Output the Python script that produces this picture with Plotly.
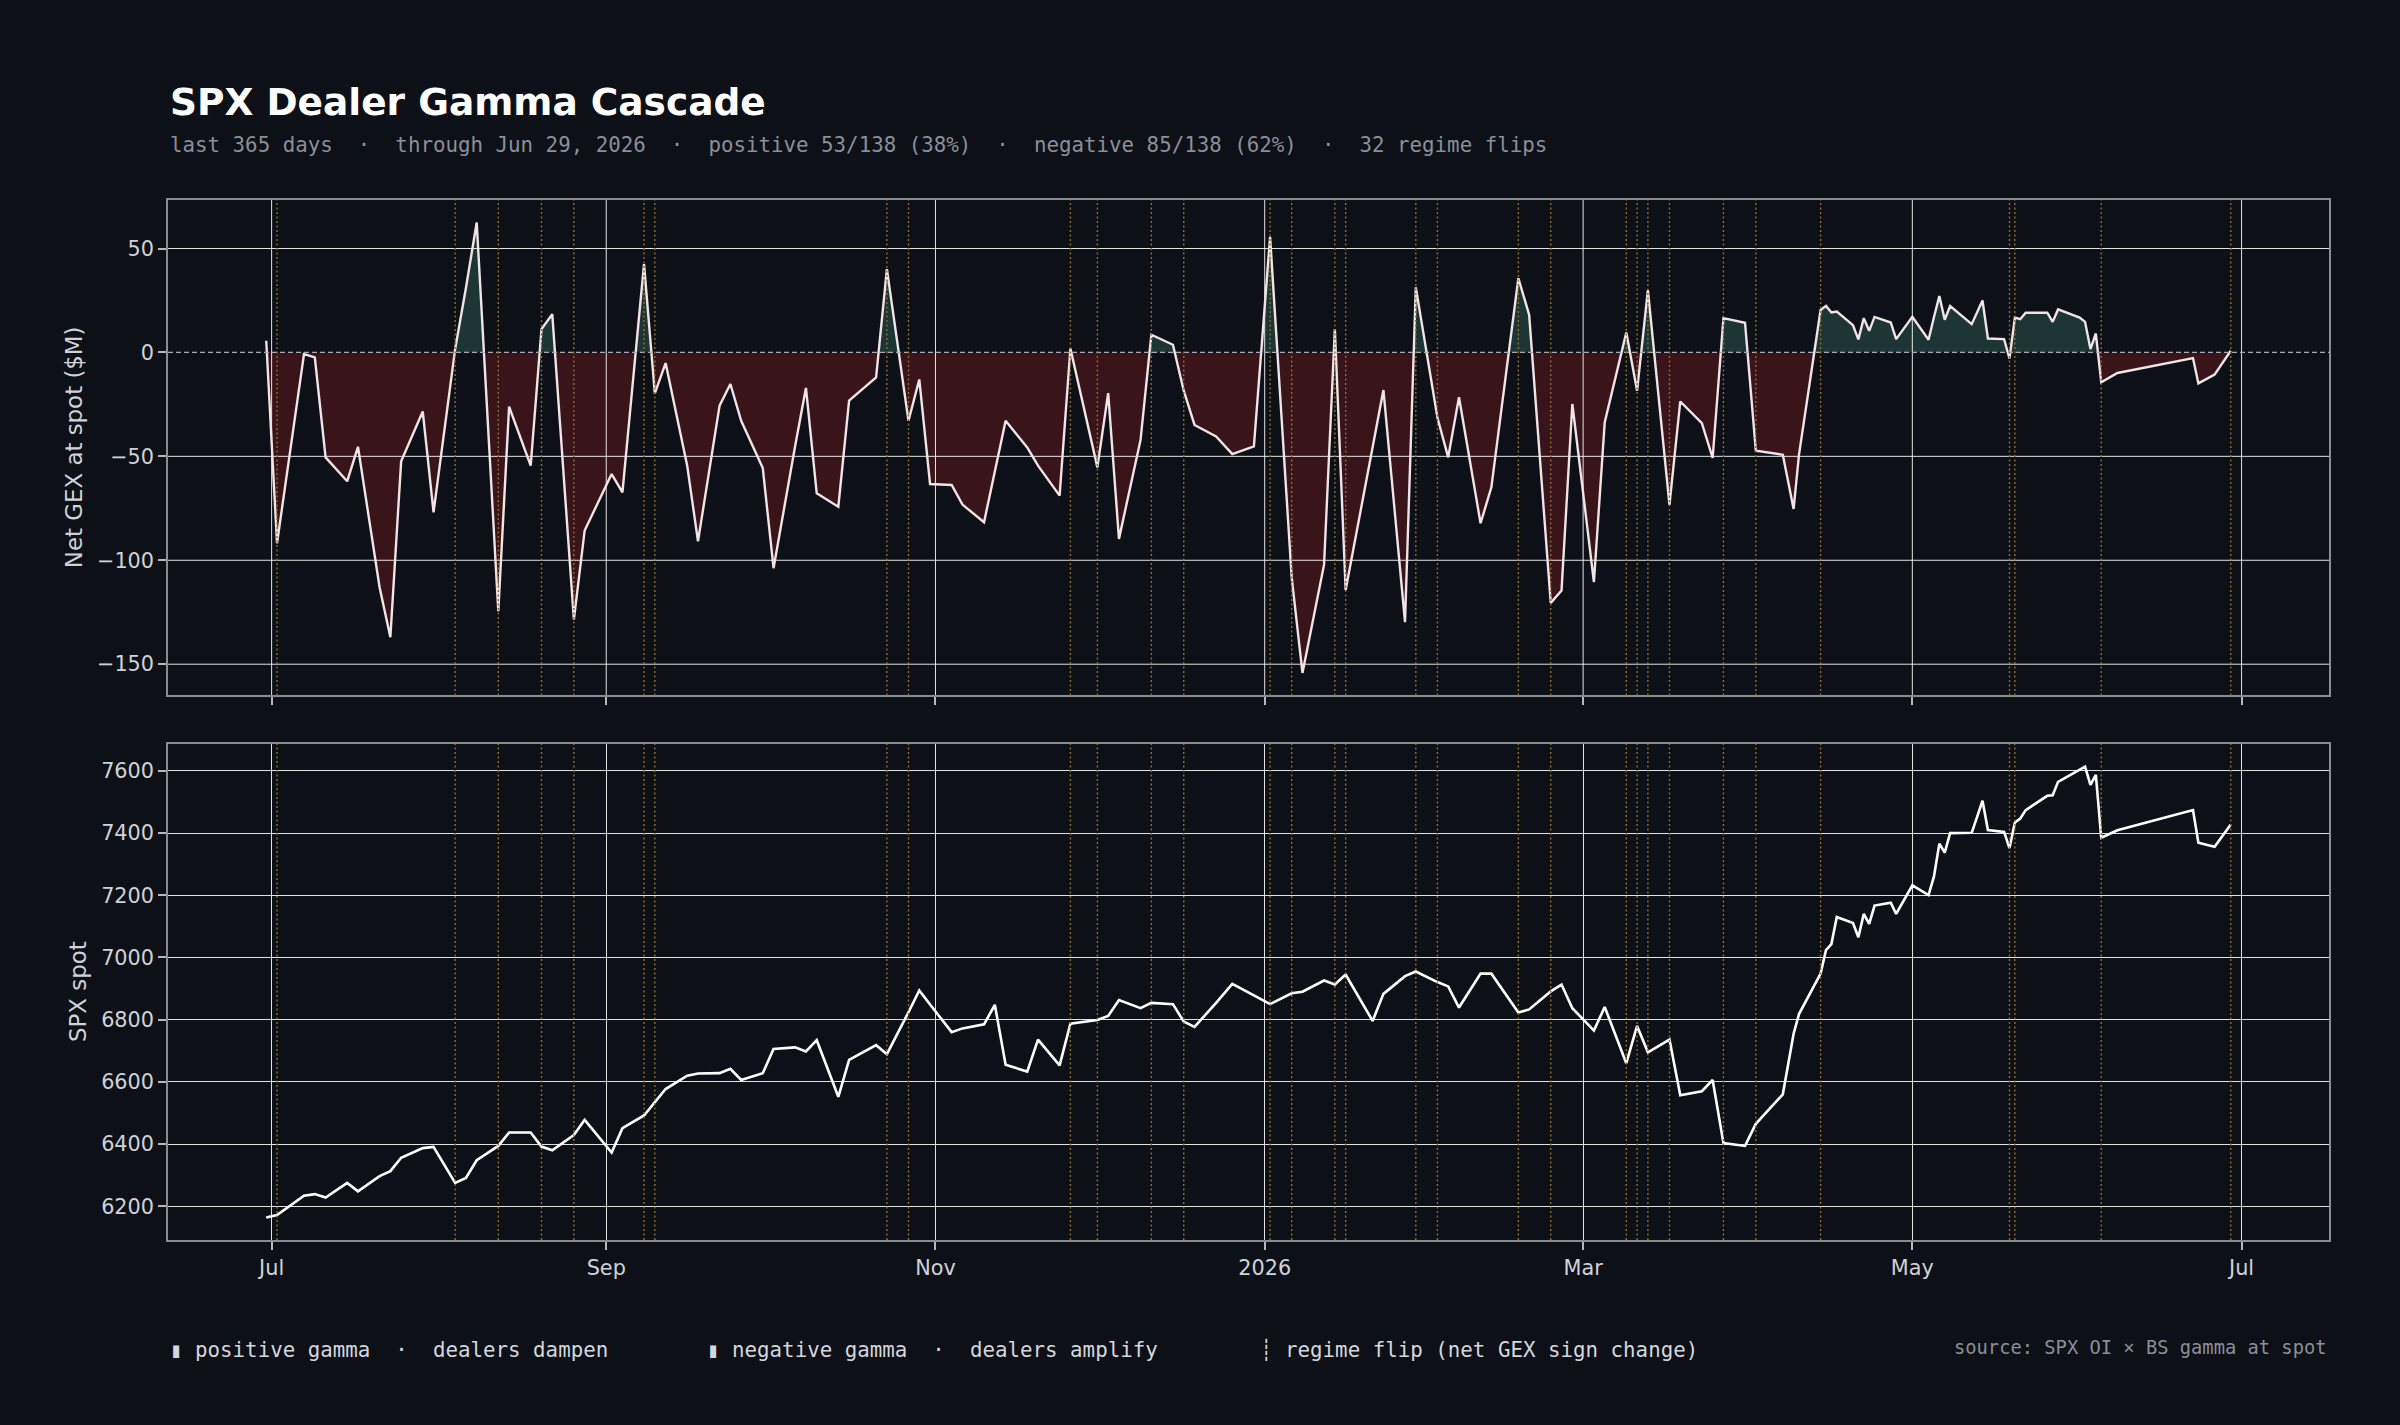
import numpy as np
import pandas as pd
import plotly.graph_objects as go

# ---------------- data ----------------
dates = [
    "2025-06-30", "2025-07-02", "2025-07-07", "2025-07-09", "2025-07-11", "2025-07-15", "2025-07-17", "2025-07-21", "2025-07-23", "2025-07-25",
    "2025-07-29", "2025-07-31", "2025-08-04", "2025-08-06", "2025-08-08", "2025-08-12", "2025-08-14", "2025-08-18", "2025-08-20", "2025-08-22",
    "2025-08-26", "2025-08-28", "2025-09-02", "2025-09-04", "2025-09-08", "2025-09-10", "2025-09-12", "2025-09-16", "2025-09-18", "2025-09-22",
    "2025-09-24", "2025-09-26", "2025-09-30", "2025-10-02", "2025-10-06", "2025-10-08", "2025-10-10", "2025-10-14", "2025-10-16", "2025-10-21",
    "2025-10-23", "2025-10-27", "2025-10-29", "2025-10-31", "2025-11-04", "2025-11-06", "2025-11-10", "2025-11-12", "2025-11-14", "2025-11-18",
    "2025-11-20", "2025-11-24", "2025-11-26", "2025-12-01", "2025-12-03", "2025-12-05", "2025-12-09", "2025-12-11", "2025-12-15", "2025-12-17",
    "2025-12-19", "2025-12-23", "2025-12-26", "2025-12-30", "2026-01-02", "2026-01-06", "2026-01-08", "2026-01-12", "2026-01-14", "2026-01-16",
    "2026-01-21", "2026-01-23", "2026-01-27", "2026-01-29", "2026-02-02", "2026-02-04", "2026-02-06", "2026-02-10", "2026-02-12", "2026-02-17",
    "2026-02-19", "2026-02-23", "2026-02-25", "2026-02-27", "2026-03-03", "2026-03-05", "2026-03-09", "2026-03-11", "2026-03-13", "2026-03-17",
    "2026-03-19", "2026-03-23", "2026-03-25", "2026-03-27", "2026-03-31", "2026-04-02", "2026-04-07", "2026-04-09", "2026-04-10", "2026-04-14",
    "2026-04-15", "2026-04-16", "2026-04-17", "2026-04-20", "2026-04-21", "2026-04-22", "2026-04-23", "2026-04-24", "2026-04-27", "2026-04-28",
    "2026-05-01", "2026-05-04", "2026-05-05", "2026-05-06", "2026-05-07", "2026-05-08", "2026-05-12", "2026-05-13", "2026-05-14", "2026-05-15",
    "2026-05-18", "2026-05-19", "2026-05-20", "2026-05-21", "2026-05-22", "2026-05-26", "2026-05-27", "2026-05-28", "2026-06-01", "2026-06-02",
    "2026-06-03", "2026-06-04", "2026-06-05", "2026-06-08", "2026-06-22", "2026-06-23", "2026-06-26", "2026-06-29",
]

net_gex = [
    5.6, -91.8, -0.8, -2.4, -50.5, -62.0, -45.4, -113.0, -137.0, -52.4,
    -28.4, -76.9, 1.6, 31.0, 62.5, -124.5, -26.1, -54.5, 11.2, 18.4,
    -128.5, -85.7, -58.5, -67.3, 42.5, -19.7, -5.1, -54.5, -90.9, -25.6,
    -15.2, -32.9, -55.6, -103.8, -45.0, -17.1, -67.8, -74.2, -23.2, -12.0,
    40.1, -32.9, -13.0, -63.3, -63.8, -73.2, -81.7, -57.7, -32.9, -45.7,
    -54.5, -68.9, 1.9, -55.3, -19.6, -89.7, -42.1, 8.5, 3.7, -18.4,
    -34.9, -40.4, -48.9, -45.2, 55.6, -108.2, -154.2, -102.1, 11.2, -114.3,
    -44.7, -18.1, -129.8, 31.3, -31.3, -50.5, -21.6, -82.2, -64.9, 35.7,
    18.1, -120.5, -114.6, -24.8, -110.5, -33.7, 9.6, -18.4, 30.0, -73.4,
    -23.6, -34.0, -50.8, 16.5, 14.3, -47.3, -49.2, -75.3, -49.2, 20.4,
    22.4, 19.2, 19.7, 13.1, 6.3, 16.5, 10.4, 17.1, 14.4, 6.4,
    17.1, 6.1, 16.9, 27.1, 15.7, 22.3, 13.6, 19.5, 25.0, 6.7,
    6.4, -2.9, 16.8, 16.0, 19.1, 19.1, 14.7, 20.7, 16.8, 14.7,
    1.6, 9.1, -14.4, -9.9, -2.7, -14.9, -10.7, 0.8,
]

spx_spot = [
    6164, 6172, 6234, 6239, 6228, 6275, 6248, 6297, 6313, 6356,
    6387, 6391, 6275, 6291, 6348, 6394, 6437, 6437, 6392, 6380,
    6429, 6478, 6373, 6451, 6492, 6535, 6577, 6620, 6627, 6628,
    6642, 6606, 6628, 6706, 6711, 6698, 6734, 6552, 6671, 6718,
    6689, 6824, 6894, 6849, 6760, 6772, 6785, 6848, 6655, 6633,
    6736, 6653, 6787, 6799, 6812, 6863, 6837, 6854, 6850, 6794,
    6777, 6854, 6915, 6878, 6850, 6885, 6890, 6926, 6913, 6945,
    6796, 6883, 6940, 6955, 6921, 6907, 6839, 6948, 6948, 6823,
    6833, 6891, 6913, 6837, 6765, 6841, 6660, 6780, 6695, 6736,
    6557, 6570, 6606, 6403, 6394, 6465, 6560, 6755, 6818, 6948,
    7024, 7043, 7130, 7111, 7065, 7140, 7108, 7167, 7176, 7140,
    7232, 7201, 7260, 7366, 7337, 7400, 7401, 7452, 7504, 7410,
    7404, 7352, 7434, 7447, 7474, 7520, 7522, 7565, 7603, 7614,
    7555, 7587, 7385, 7409, 7474, 7369, 7356, 7428,
]

x_tick_dates = ["2025-07-01", "2025-09-01", "2025-11-01", "2026-01-01", "2026-03-01", "2026-05-01", "2026-07-01"]
x_tick_labels = ["Jul", "Sep", "Nov", "2026", "Mar", "May", "Jul"]
gex_ticks = [-150, -100, -50, 0, 50]
spot_ticks = [6200, 6400, 6600, 6800, 7000, 7200, 7400, 7600]

title_text = "SPX Dealer Gamma Cascade"
gex_axis_title = "Net GEX at spot ($M)"
spot_axis_title = "SPX spot"
legend_items = [
    "▮ positive gamma  ·  dealers dampen",
    "▮ negative gamma  ·  dealers amplify",
    "┊ regime flip (net GEX sign change)",
]
source_text = "source: SPX OI × BS gamma at spot"

# ---------------- styles ----------------
BG = "#0d1017"
GRID = "rgba(255,255,255,0.88)"
FRAME = "#8a8c90"
TICKC = "#b8b8b8"
LABEL = "#cfd2d8"
SUB = "#8b8f98"
POS_FILL = "#1e3535"
NEG_FILL = "#3a141b"
GEX_LINE = "#f0e4e6"
SPOT_LINE = "#ffffff"
FLIP = "#8c6f2a"
SANS = "DejaVu Sans"
MONO = "DejaVu Sans Mono"

# ---------------- derived ----------------
t = pd.to_datetime(pd.Series(dates))
gex = np.array(net_gex, dtype=float)
spot = np.array(spx_spot, dtype=float)

span = t.max() - t.min()
x_lo = t.min() - 0.05 * span
x_hi = t.max() + 0.05 * span


def padded(a):
    lo, hi = float(a.min()), float(a.max())
    s = hi - lo
    return [lo - 0.05 * s, hi + 0.05 * s]


y1_range = padded(gex)
y2_range = padded(spot)

fx, fy = [], []
for i in range(len(gex)):
    if i > 0 and np.sign(gex[i]) != np.sign(gex[i - 1]):
        frac = gex[i - 1] / (gex[i - 1] - gex[i])
        fx.append(t[i - 1] + (t[i] - t[i - 1]) * frac)
        fy.append(0.0)
    fx.append(t[i])
    fy.append(gex[i])
fy = np.array(fy)
fx_s = [pd.Timestamp(v).isoformat() for v in fx]
pos_part = np.maximum(fy, 0.0)
neg_part = np.minimum(fy, 0.0)

flip_idx = [i for i in range(1, len(gex)) if np.sign(gex[i]) != np.sign(gex[i - 1])]
n = len(gex)
n_pos = int((gex > 0).sum())
n_neg = int((gex < 0).sum())
last_day = t.max()
NB = "\u00a0"
sep = NB * 2 + "·" + NB * 2
subtitle = sep.join([
    "last 365 days",
    f"through {last_day.strftime('%b')} {last_day.day}, {last_day.year}",
    f"positive {n_pos}/{n} ({round(100 * n_pos / n)}%)",
    f"negative {n_neg}/{n} ({round(100 * n_neg / n)}%)",
    f"{len(flip_idx)} regime flips",
]).replace(" ", NB)

t_s = [v.isoformat() for v in t]
x_lo_s, x_hi_s = x_lo.isoformat(), x_hi.isoformat()

# gridlines for the top panel drawn above the fills
gx, gy = [], []
for d in x_tick_dates:
    gx += [d, d, None]
    gy += [y1_range[0], y1_range[1], None]
for g in gex_ticks:
    if g == 0:
        continue
    gx += [x_lo_s, x_hi_s, None]
    gy += [g, g, None]

fig = go.Figure()
fig.add_trace(go.Scatter(x=fx_s, y=neg_part, mode="lines", line=dict(width=0), fill="tozeroy",
                         fillcolor=NEG_FILL, hoverinfo="skip", xaxis="x", yaxis="y"))
fig.add_trace(go.Scatter(x=fx_s, y=pos_part, mode="lines", line=dict(width=0), fill="tozeroy",
                         fillcolor=POS_FILL, hoverinfo="skip", xaxis="x", yaxis="y"))
fig.add_trace(go.Scatter(x=gx, y=gy, mode="lines", line=dict(color=GRID, width=1),
                         hoverinfo="skip", xaxis="x", yaxis="y", connectgaps=False))
fig.add_trace(go.Scatter(x=t_s, y=gex, mode="lines", line=dict(color=GEX_LINE, width=2.4),
                         xaxis="x", yaxis="y"))
fig.add_trace(go.Scatter(x=t_s, y=spot, mode="lines", line=dict(color=SPOT_LINE, width=2.6),
                         xaxis="x2", yaxis="y2"))

shapes = [dict(type="line", xref="x domain", x0=0, x1=1, yref="y", y0=0, y1=0,
               line=dict(color="#a9abb0", width=1.3, dash="5px,3px"), layer="above")]
for i in flip_idx:
    for yr in ("y domain", "y2 domain"):
        shapes.append(dict(type="line", xref="x" if yr.startswith("y ") else "x2",
                           x0=t_s[i], x1=t_s[i], yref=yr, y0=0, y1=1,
                           line=dict(color=FLIP, width=1.4, dash="2px,2.5px"), layer="above"))

axis_common = dict(ticks="outside", ticklen=8, tickwidth=1.5, tickcolor=TICKC,
                   showline=True, mirror=True, linecolor=FRAME, linewidth=1.5,
                   zeroline=False, tickfont=dict(family=SANS, size=20.8, color=LABEL))

top_dom = [0.5236, 1.0]
bot_dom = [0.0, 0.4769]

annotations = [
    dict(text=f"<b>{title_text}</b>", xref="paper", yref="paper", x=0, y=1.0942,
         xanchor="left", yanchor="middle", showarrow=False,
         font=dict(family=SANS, size=37.5, color="#ffffff")),
    dict(text=subtitle, xref="paper", yref="paper", x=0, y=1.0529,
         xanchor="left", yanchor="middle", showarrow=False,
         font=dict(family=MONO, size=20.8, color=SUB)),
    dict(text=gex_axis_title, xref="paper", yref="paper", x=0, xshift=-94.5,
         y=(top_dom[0] + top_dom[1]) / 2, xanchor="center", yanchor="middle",
         textangle=-90, showarrow=False, font=dict(family=SANS, size=22.9, color=LABEL)),
    dict(text=spot_axis_title, xref="paper", yref="paper", x=0, xshift=-90,
         y=(bot_dom[0] + bot_dom[1]) / 2, xanchor="center", yanchor="middle",
         textangle=-90, showarrow=False, font=dict(family=SANS, size=22.9, color=LABEL)),
    dict(text=source_text.replace(" ", NB), xref="paper", yref="paper", x=1, y=-0.1029,
         xanchor="right", yanchor="middle", showarrow=False,
         font=dict(family=MONO, size=18.75, color=SUB)),
]
legend_x = [0.0, 0.2485, 0.5044]
for xv, txt in zip(legend_x, legend_items):
    annotations.append(dict(text=txt.replace(" ", NB), xref="paper", yref="paper", x=xv, y=-0.1058,
                            xanchor="left", yanchor="middle", showarrow=False,
                            font=dict(family=MONO, size=20.8, color="#d4d7dd")))

fig.update_layout(
    width=2400, height=1425,
    paper_bgcolor=BG, plot_bgcolor=BG,
    margin=dict(l=168, r=71, t=200, b=185),
    showlegend=False,
    font=dict(family=SANS, color=LABEL, size=20.8),
    xaxis=dict(domain=[0, 1], anchor="y", type="date", range=[x_lo_s, x_hi_s],
               tickvals=x_tick_dates, ticktext=x_tick_labels, showticklabels=False,
               showgrid=False, **axis_common),
    yaxis=dict(domain=top_dom, anchor="x", range=y1_range, tickvals=gex_ticks,
               showgrid=False, **axis_common),
    xaxis2=dict(domain=[0, 1], anchor="y2", type="date", range=[x_lo_s, x_hi_s],
                tickvals=x_tick_dates, ticktext=x_tick_labels, showgrid=True,
                gridcolor=GRID, gridwidth=1, **axis_common),
    yaxis2=dict(domain=bot_dom, anchor="x2", range=y2_range, tickvals=spot_ticks,
                showgrid=True, gridcolor=GRID, gridwidth=1, **axis_common),
    shapes=shapes,
    annotations=annotations,
)

fig.write_html("out.html")
